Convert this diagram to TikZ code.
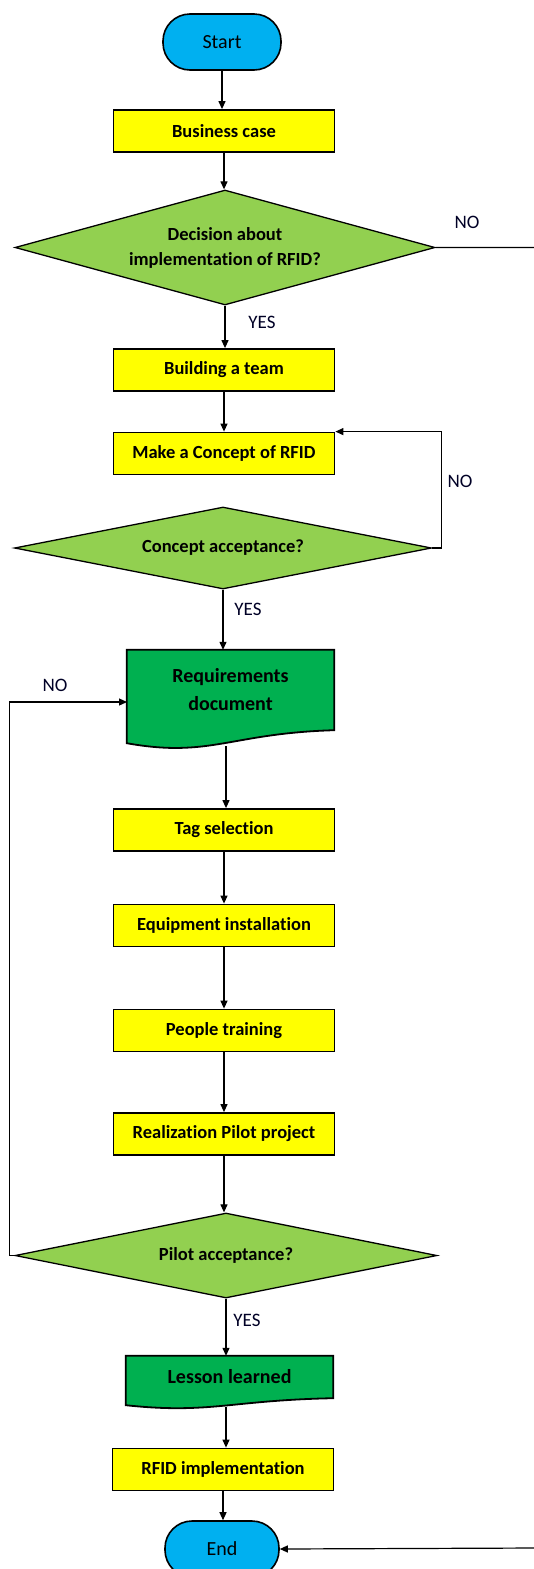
\documentclass[tikz,border=0pt]{standalone}
\usepackage{fontspec}
\setmainfont{Carlito}[Ligatures=NoCommon]
\usetikzlibrary{shapes.geometric,arrows.meta,calc,backgrounds}
\definecolor{ybox}{HTML}{FFFF00}
\definecolor{dgreen}{HTML}{92D050}
\definecolor{docgreen}{HTML}{00B050}
\definecolor{termblue}{HTML}{00B0F0}
\begin{document}
\begin{tikzpicture}[x=1pt,y=-1pt,
  procbox/.style={draw=black,line width=1.8pt,fill=ybox,minimum width=221pt,minimum height=42pt,inner sep=0pt,font=\fontsize{18.5}{22}\selectfont\bfseries},
  term/.style={draw=black,line width=1.6pt,fill=termblue,rounded corners=27pt,minimum height=56pt,inner sep=0pt,font=\fontsize{20}{24}\selectfont},
  decision/.style={diamond,draw=black,line width=1.3pt,fill=dgreen,inner sep=0pt,align=center,font=\fontsize{18.5}{25}\selectfont\bfseries},
  docnode/.style={inner sep=0pt,minimum width=207pt,align=center,font=\fontsize{20}{28}\selectfont\bfseries},
  docshape/.style={draw=black,line width=1.8pt,fill=docgreen},
  lbl/.style={font=\fontsize{19}{22}\selectfont,text=black!85!blue},
  arr/.style={draw=black,line width=1.2pt,-{Triangle[length=8pt,width=7pt]}},
  ln/.style={draw=black,line width=1.2pt}
]
\useasboundingbox (0,0) rectangle (533,1569);
\begin{scope}[on background layer]
\fill[white] (0,0) rectangle (533,1569);
\end{scope}

\node[term,minimum width=118pt] (start) at (222,42) {Start};
\node[procbox] (bc) at (224,131) {Business case};
\node[decision,minimum width=420pt,minimum height=115pt,shape aspect=3.65] (d1) at (225,247.5) {Decision about\\implementation of RFID?};
\node[procbox] (team) at (224,370) {Building a team};
\node[procbox] (concept) at (224,453.5) {Make a Concept of RFID};
\node[decision,minimum width=417pt,minimum height=82pt,shape aspect=5.1] (d2) at (223,548) {Concept acceptance?};
\node[docnode,minimum height=80pt] (req) at (230.5,690) {Requirements\\document};
\node[procbox] (tag) at (224,830) {Tag selection};
\node[procbox] (equip) at (224,925.5) {Equipment installation};
\node[procbox] (people) at (224,1030.5) {People training};
\node[procbox] (real) at (224,1134) {Realization Pilot project};
\node[decision,minimum width=422pt,minimum height=85pt,shape aspect=5] (d3) at (226,1255.5) {Pilot acceptance?};
\node[docnode,minimum height=42pt] (lesson) at (229.5,1377) {Lesson learned};
\node[procbox] (rfid) at (223,1469.5) {RFID implementation};
\node[term,minimum width=114pt] (end) at (222,1549) {End};

\begin{scope}[on background layer]
\path[docshape] (req.north west) -- (req.north east) -- (req.south east)
  .. controls ($(req.south east)+(-104,3)$) and ($(req.south east)+(-124,28)$) .. ($(req.south west)+(0,13)$) -- cycle;
\path[docshape] (lesson.north west) -- (lesson.north east) -- (lesson.south east)
  .. controls ($(lesson.south east)+(-103,2)$) and ($(lesson.south east)+(-123,16)$) .. ($(lesson.south west)+(0,7)$) -- cycle;
\end{scope}

\coordinate (reqb) at (226,746);
\coordinate (lessb) at (226,1407);
\coordinate (reqin) at (127,702);
\coordinate (rtop) at (536,247.5);
\coordinate (rbot) at (536,1548);

\draw[arr] (start.south) -- (start.south |- bc.north);
\draw[arr] (bc.south) -- (bc.south |- d1.north);
\draw[arr] (d1.south) -- (d1.south |- team.north);
\draw[arr] (team.south) -- (team.south |- concept.north);
\draw[arr] (d2.south) -- (d2.south |- req.north);
\draw[arr] (reqb) -- (reqb |- tag.north);
\draw[arr] (tag.south) -- (tag.south |- equip.north);
\draw[arr] (equip.south) -- (equip.south |- people.north);
\draw[arr] (people.south) -- (people.south |- real.north);
\draw[arr] (real.south) -- (real.south |- d3.north);
\draw[arr] (d3.south) -- (d3.south |- lesson.north);
\draw[arr] (lessb) -- (lessb |- rfid.north);
\draw[arr] (rfid.south) -- (rfid.south |- end.north);

\draw[arr] (d2.east) -- ++(9,0) |- (concept.north east);
\draw[arr] (d3.west) -- ++(-5,0) |- (reqin);
\draw[arr] (d1.east) -- (rtop) -- (rbot) -- (end.east);

\node[lbl] (no1) at (467,222) {NO};
\node[lbl] (yes1) at (262,322) {YES};
\node[lbl] (no2) at (460,481) {NO};
\node[lbl] (yes2) at (248,609) {YES};
\node[lbl] (no3) at (55,685) {NO};
\node[lbl] (yes3) at (247,1320) {YES};
\end{tikzpicture}
\end{document}
